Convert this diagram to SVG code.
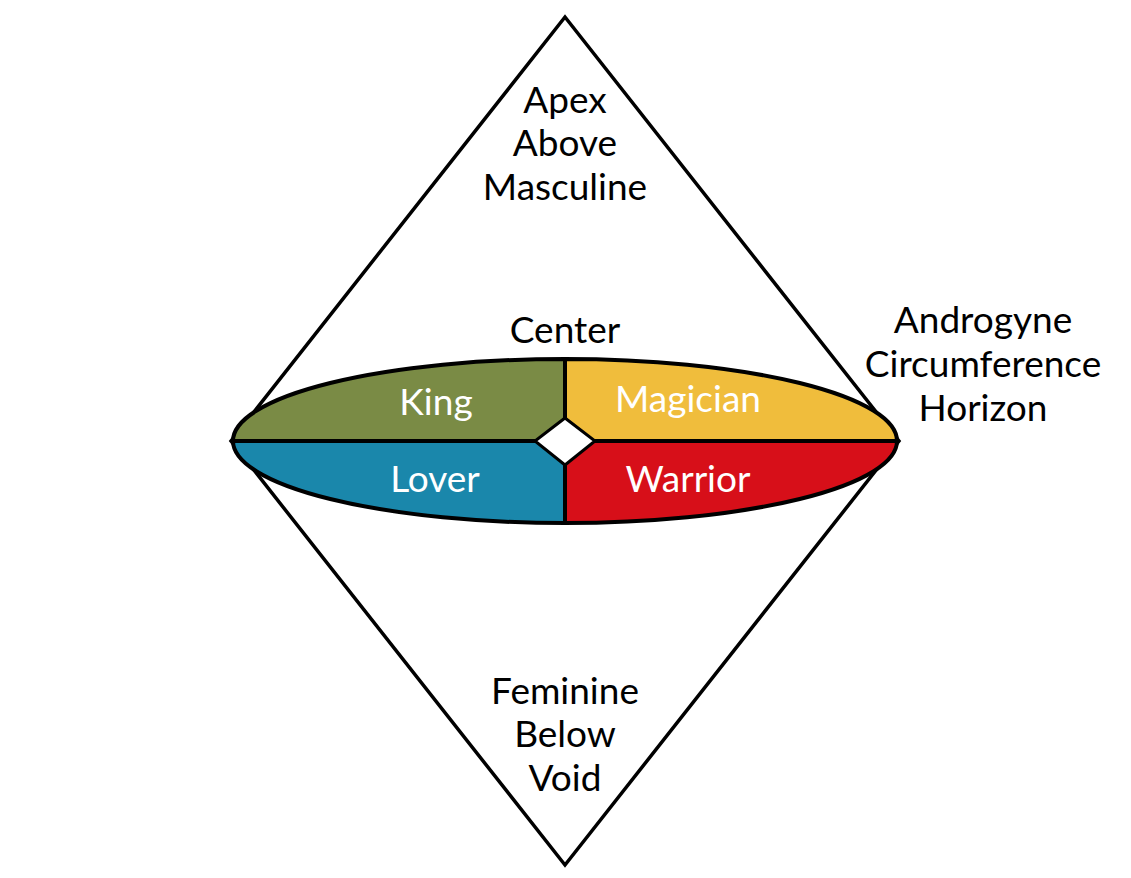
<svg xmlns="http://www.w3.org/2000/svg" width="1131" height="878" viewBox="0 0 1131 878">
<style>
.ln{fill:none;stroke:#000;stroke-width:3.5;stroke-linejoin:miter}
.q{stroke:#000;stroke-width:4}
.t{font-family:Lato,"Liberation Sans",sans-serif;font-size:37px;text-anchor:middle;fill:#000}
.w{fill:#fff}
</style>
<rect width="1131" height="878" fill="#fff"/>
<g id="outer-diamond"><polygon class="ln" points="565,17 899,441 565,865 231,441"/></g>
<g id="quadrants">
<g id="king"><path class="q" fill="#7a8b45" d="M565 441 L233 441 A332 82 0 0 1 565 359 Z"/><text class="t w" x="436" y="415">King</text></g>
<g id="magician"><path class="q" fill="#f0bd3c" d="M565 441 L565 359 A332 82 0 0 1 897 441 Z"/><text class="t w" x="688" y="412">Magician</text></g>
<g id="lover"><path class="q" fill="#1a87ab" d="M565 441 L565 523 A332 82 0 0 1 233 441 Z"/><text class="t w" x="435" y="492">Lover</text></g>
<g id="warrior"><path class="q" fill="#d70f19" d="M565 441 L897 441 A332 82 0 0 1 565 523 Z"/><text class="t w" x="688" y="492">Warrior</text></g>
</g>
<g id="center-diamond"><polygon fill="#fff" stroke="#000" stroke-width="3" points="565,418 595,441 565,465 535,441"/></g>
<g id="apex"><text class="t" x="565" y="113">Apex</text><text class="t" x="565" y="156">Above</text><text class="t" x="565" y="200">Masculine</text></g>
<g id="center-label"><text class="t" x="565" y="343">Center</text></g>
<g id="androgyne"><text class="t" x="983" y="333">Androgyne</text><text class="t" x="983" y="377">Circumference</text><text class="t" x="983" y="421">Horizon</text></g>
<g id="feminine"><text class="t" x="565" y="704">Feminine</text><text class="t" x="565" y="747">Below</text><text class="t" x="565" y="791">Void</text></g>
</svg>
